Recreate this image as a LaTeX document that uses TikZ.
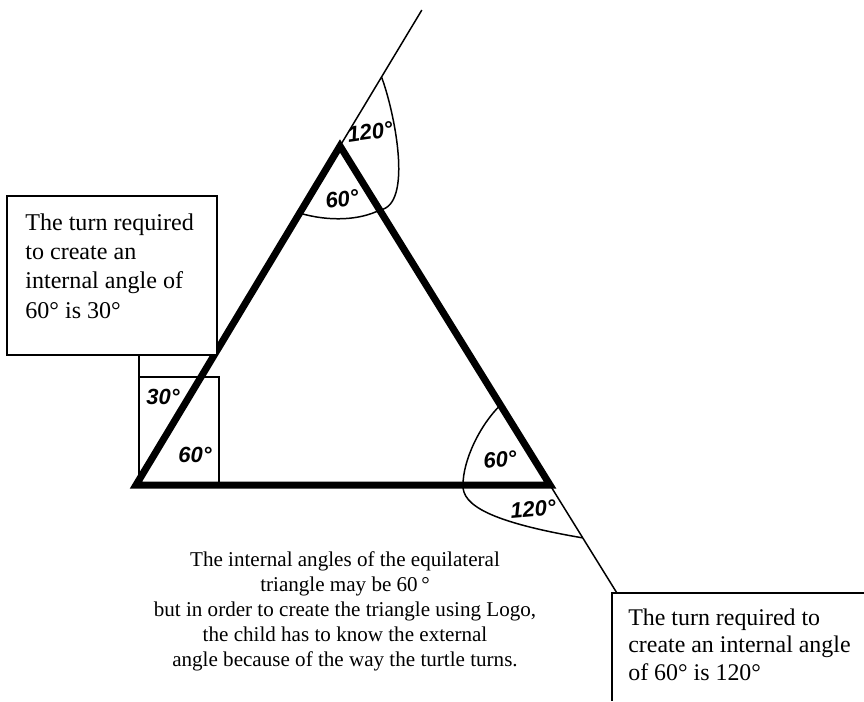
\documentclass[tikz,border=0pt]{standalone}
\usepackage{fontspec}
\setmainfont{Liberation Serif}
\setsansfont{Liberation Sans}
\usetikzlibrary{calc}

\begin{document}
\begin{tikzpicture}[x=0.02cm, y=-0.02cm,
  side/.style={line width=4pt, line join=miter},
  guide/.style={line width=0.85pt},
  anglelabel/.style={font=\sffamily\bfseries\itshape\fontsize{12.5}{14}\selectfont,
                     inner sep=0pt},
  note/.style={align=left, inner sep=0pt, anchor=base west,
               font=\fontsize{13.7}{16.6}\selectfont},
  caption/.style={align=center, inner sep=0pt, anchor=base,
                  font=\fontsize{12}{14.2}\selectfont},
]
  \useasboundingbox (0,0) rectangle (864,701);

  \coordinate (vtop) at (340,146);
  \coordinate (vleft) at (136,485);
  \coordinate (vright) at (550,485);
  \coordinate (topend) at ($(vleft)!1.401!(vtop)$);
  \coordinate (rightend) at ($(vtop)!1.316!(vright)$);

  \draw[guide] (vtop) -- (topend);
  \draw[guide] (vright) -- (rightend);

  \coordinate (toparc1) at ($(vleft)!1.2035!(vtop)$);
  \coordinate (toparc2) at ($(vtop)!0.189!(vright)$);
  \coordinate (toparc3) at ($(vtop)!0.198!(vleft)$);
  \draw[guide] (toparc1) .. controls (394,110) and (414,205) .. (toparc2);
  \draw[guide] (toparc3) .. controls (330,222) and (360,220) .. (toparc2);

  \coordinate (brarc1) at ($(vtop)!0.764!(vright)$);
  \coordinate (brarc2) at (463,485);
  \coordinate (brarc3) at ($(vtop)!1.156!(vright)$);
  \draw[guide] (brarc1) .. controls (480,425) and (463,460) .. (brarc2);
  \draw[guide] (brarc2) .. controls (462,505) and (490,522) .. (brarc3);

  \coordinate (sq1) at (139,377);
  \coordinate (sq2) at (219,377);
  \draw[guide] (139,355) -- (139,485);
  \draw[guide] (sq1) -- (sq2) -- (219,485);

  \draw[side] (vleft) -- (vtop) -- (vright) -- cycle;

  \node[anglelabel, rotate=8] (a120top) at (370,132) {120°};
  \node[anglelabel, rotate=8] (a60top) at (342,199) {60°};
  \node[anglelabel] (a30left) at (163,397) {30°};
  \node[anglelabel] (a60left) at (195,455) {60°};
  \node[anglelabel, rotate=5] (a60right) at (500,460) {60°};
  \node[anglelabel, rotate=5] (a120right) at (533,509) {120°};

  \draw[guide, fill=white] (7,196) rectangle (217,355);
  \node[note] (lefttext) at (25,318) {The turn required\\to create an\\internal angle of\\60° is 30°};

  \draw[guide] (864,593) -| (612,701);
  \node[note, font=\fontsize{13.6}{15.6}\selectfont] (righttext) at (628,680)
    {The turn required to\\create an internal angle\\of 60° is 120°};

  \node[caption] (captext) at (345,666) {The internal angles of the equilateral\\
    triangle may be 60\,°\\
    but in order to create the triangle using Logo,\\
    the child has to know the external\\
    angle because of the way the turtle turns.};
\end{tikzpicture}
\end{document}
